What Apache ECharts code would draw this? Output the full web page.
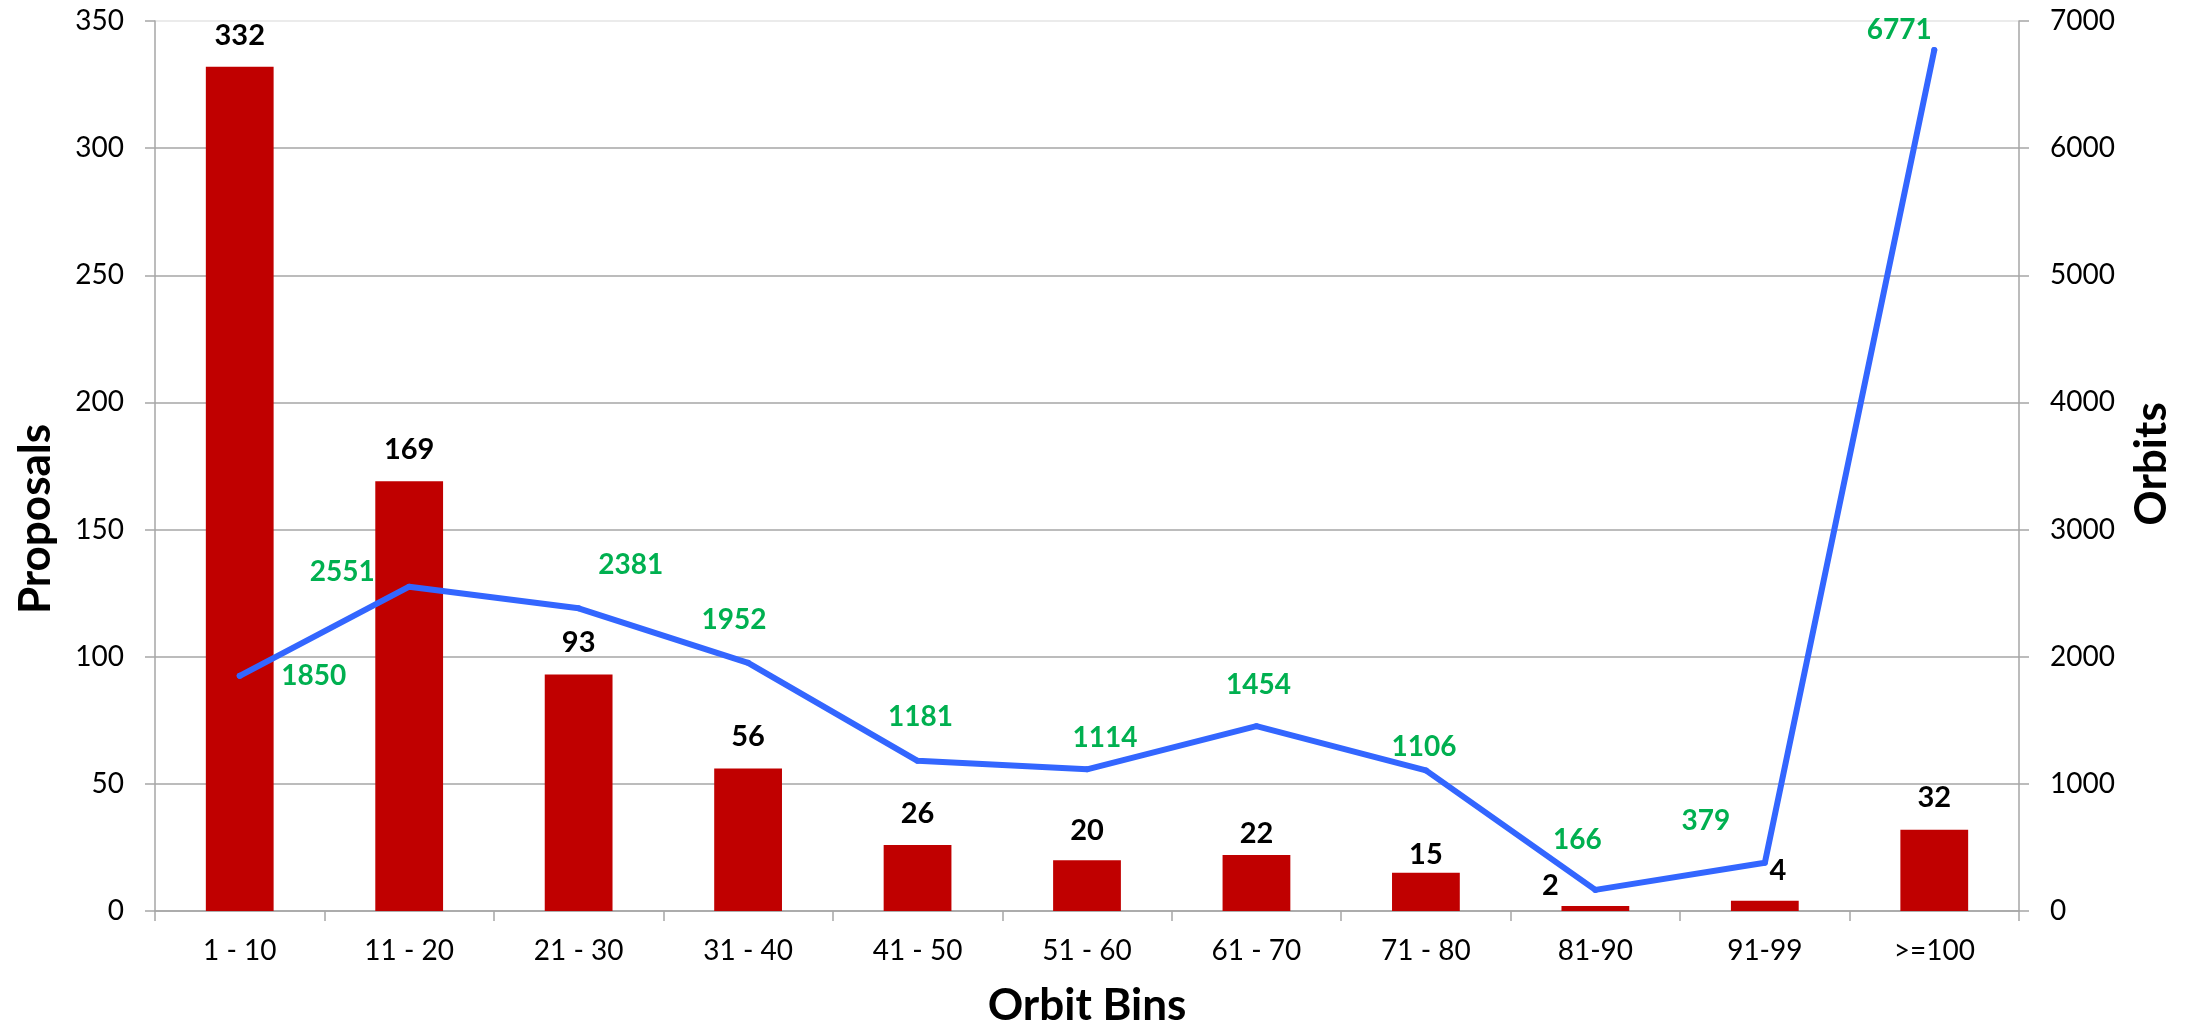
<!DOCTYPE html>
<html><head><meta charset="utf-8">
<script src="https://cdn.jsdelivr.net/npm/echarts@6/dist/echarts.min.js"></script>
<style>html,body{margin:0;padding:0;background:#fff}#c{width:2198px;height:1026px}</style>
</head><body><div id="c"></div>
<script>
const categories = ['1 - 10','11 - 20','21 - 30','31 - 40','41 - 50','51 - 60','61 - 70','71 - 80','81-90','91-99','>=100'];
const proposals = [332,169,93,56,26,20,22,15,2,4,32];
const orbits = [1850,2551,2381,1952,1181,1114,1454,1106,166,379,6771];
const leftAxisTitle = 'Proposals';
const rightAxisTitle = 'Orbits';
const xAxisTitle = 'Orbit Bins';

// label placement tweaks (style only)
const barLabelOffsets = [[0,0],[0,0],[0,0],[0,0],[0,0],[0,2],[0,10],[0,13],[-45,11],[13,1],[0,0]];
const lineLabelOffsets = [[74,0],[-67,-15],[52,-43],[-14,-43],[3,-44],[18,-31],[2,-41],[-2,-23],[-18,-50],[-59,-42],[-35,-20]];

const FONT = 'Lato';
const chart = echarts.init(document.getElementById('c'), null, {renderer:'canvas'});
const gridColors = ['#a6a6a6','#a6a6a6','#a6a6a6','#a6a6a6','#a6a6a6','#a6a6a6','#a6a6a6','#e4e4e4'];

chart.setOption({
  animation:false,
  backgroundColor:'#ffffff',
  grid:{left:155,right:179,top:21,bottom:115,containLabel:false},
  xAxis:{
    type:'category', data:categories, boundaryGap:true,
    axisLine:{show:true,lineStyle:{color:'#a6a6a6',width:1.5}},
    axisTick:{show:true,length:10,inside:false,lineStyle:{color:'#a6a6a6',width:1.5}},
    axisLabel:{fontFamily:FONT,fontSize:28,color:'#000',margin:26,interval:0},
    splitLine:{show:false}
  },
  yAxis:[
    {type:'value',min:0,max:350,interval:50,position:'left',
     axisLine:{show:true,lineStyle:{color:'#a6a6a6',width:1.5}},
     axisTick:{show:true,length:10,inside:false,lineStyle:{color:'#a6a6a6',width:1.5}},
     axisLabel:{fontFamily:FONT,fontSize:28,color:'#000',margin:31},
     splitLine:{show:true,lineStyle:{color:gridColors,width:1.5}}
    },
    {type:'value',min:0,max:7000,interval:1000,position:'right',
     axisLine:{show:true,lineStyle:{color:'#a6a6a6',width:1.5}},
     axisTick:{show:true,length:10,inside:false,lineStyle:{color:'#a6a6a6',width:1.5}},
     axisLabel:{fontFamily:FONT,fontSize:28,color:'#000',margin:31,formatter:v=>String(v)},
     splitLine:{show:false}
    }
  ],
  graphic:[
    {type:'text',x:36,y:519,rotation:Math.PI/2,style:{text:leftAxisTitle,font:'bold 44px '+FONT,fill:'#000',align:'center',verticalAlign:'middle'}},
    {type:'text',x:2152,y:464,rotation:Math.PI/2,style:{text:rightAxisTitle,font:'bold 44px '+FONT,fill:'#000',align:'center',verticalAlign:'middle'}},
    {type:'text',x:1087,y:1006,style:{text:xAxisTitle,font:'bold 44px '+FONT,fill:'#000',align:'center',verticalAlign:'middle'}}
  ],
  series:[
    {type:'bar',yAxisIndex:0,barWidth:'40%',
     itemStyle:{color:'#C00000'},
     data:proposals.map((v,i)=>({value:v,label:{offset:barLabelOffsets[i]}})),
     label:{show:true,position:'top',distance:17,fontFamily:FONT,fontWeight:'bold',fontSize:29,color:'#000'},
     z:2
    },
    {type:'line',yAxisIndex:1,
     data:orbits.map((v,i)=>({value:v,label:{offset:lineLabelOffsets[i]}})),
     symbol:'circle',symbolSize:6,showSymbol:true,
     itemStyle:{color:'#3366FF'},
     lineStyle:{color:'#3366FF',width:6,cap:'round',join:'round'},
     label:{show:true,position:'inside',fontFamily:FONT,fontWeight:'bold',fontSize:28,color:'#00B050'},
     z:3
    }
  ]
});
</script></body></html>
